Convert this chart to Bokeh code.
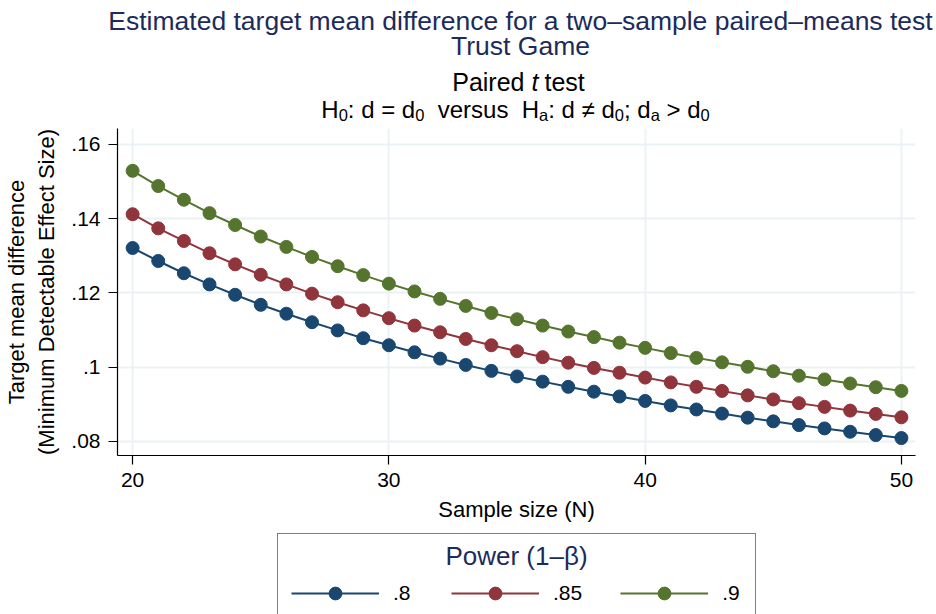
from bokeh.plotting import figure
from bokeh.models import Range1d, FixedTicker, Label, Legend, LegendItem
from bokeh.layouts import column, row
from bokeh.embed import file_html
from bokeh.resources import INLINE

# ---- data ----
sample_size = list(range(20, 51))
power_labels = [".8", ".85", ".9"]
mdes_p80 = [0.1321, 0.1286, 0.1253, 0.1223, 0.1195, 0.1168, 0.1144, 0.1121, 0.1099, 0.1078,
            0.1059, 0.1040, 0.1023, 0.1006, 0.0990, 0.0975, 0.0961, 0.0947, 0.0934, 0.0921,
            0.0909, 0.0897, 0.0886, 0.0875, 0.0864, 0.0854, 0.0844, 0.0835, 0.0826, 0.0817, 0.0809]
mdes_p85 = [0.1412, 0.1374, 0.1340, 0.1307, 0.1277, 0.1249, 0.1223, 0.1198, 0.1175, 0.1153,
            0.1132, 0.1112, 0.1094, 0.1076, 0.1059, 0.1043, 0.1027, 0.1012, 0.0998, 0.0985,
            0.0972, 0.0959, 0.0947, 0.0936, 0.0924, 0.0913, 0.0903, 0.0893, 0.0883, 0.0874, 0.0865]
mdes_p90 = [0.1529, 0.1488, 0.1451, 0.1415, 0.1383, 0.1352, 0.1324, 0.1297, 0.1272, 0.1248,
            0.1225, 0.1204, 0.1184, 0.1165, 0.1146, 0.1129, 0.1112, 0.1096, 0.1081, 0.1066,
            0.1052, 0.1038, 0.1025, 0.1013, 0.1001, 0.0989, 0.0977, 0.0967, 0.0956, 0.0946, 0.0936]
x_ticks = [20, 30, 40, 50]
y_ticks = [0.08, 0.10, 0.12, 0.14, 0.16]
y_tick_labels = [".08", ".1", ".12", ".14", ".16"]

FONT = "Liberation Sans"
NAVY = "#1A476F"
MAROON = "#90353B"
GREEN = "#55752F"
TITLE_COLOR = "#1C2B5A"
GRID = "#EAF2F3"
colors = [NAVY, MAROON, GREEN]
series = [mdes_p80, mdes_p85, mdes_p90]

W = 936
BL, BR, FW = 117, 21, 798   # shared left border, right border, frame width
NB = "\u00a0"

def bare(fig):
    fig.outline_line_color = None
    fig.xgrid.visible = False
    fig.ygrid.visible = False
    return fig

def tlab(fig, x, y, text, size, color="black", style="normal", align="center"):
    fig.add_layout(Label(x=x, y=y, text=text, text_font=FONT, text_font_size=f"{size}px",
                         text_color=color, text_font_style=style, text_align=align,
                         text_baseline="alphabetic"))

# Arial/Liberation Sans advance widths (per 1000 em) for laying out the hypothesis line
ADV = {"H": 722, ":": 278, " ": 278, NB: 278, "d": 556, "=": 584, "v": 500, "e": 556,
       "r": 333, "s": 500, "u": 556, "\u2260": 549, ";": 278, ">": 584, "0": 556, "a": 556}

def text_w(s, size):
    return sum(ADV.get(ch, 556) for ch in s) * size / 1000.0

# ---------- title panel (full width) ----------
TH = 124
t = bare(figure(frame_width=W, frame_height=TH, min_border=0,
                x_range=Range1d(0, W), y_range=Range1d(0, TH),
                x_axis_type=None, y_axis_type=None,
                output_backend="svg", toolbar_location=None))
tlab(t, 520, TH - 20, "Estimated target mean difference for a two\u2013sample paired\u2013means test", 26.5, TITLE_COLOR)
tlab(t, 520, TH - 45, "Trust Game", 26.5, TITLE_COLOR)
tlab(t, 524, TH - 81, "Paired", 25, align="right")
tlab(t, 531, TH - 81, "t", 25, style="italic", align="left")
tlab(t, 544, TH - 81, "test", 25, align="left")

# H0: d = d0  versus  Ha: d != d0; da > d0   (with real subscripts)
S, s = 24, 16.5
pieces = [("H", False), ("0", True), (":" + NB + "d" + NB + "=" + NB + "d", False), ("0", True),
          (NB * 2 + "versus" + NB * 2 + "H", False), ("a", True),
          (":" + NB + "d" + NB + "\u2260" + NB + "d", False), ("0", True),
          (";" + NB + "d", False), ("a", True), (NB + ">" + NB + "d", False), ("0", True)]
total = sum(text_w(tx, s if sub else S) for tx, sub in pieces)
xpos = 515 - total / 2
base = TH - 109
for tx, sub in pieces:
    sz = s if sub else S
    tlab(t, xpos, base - (5 if sub else 0), tx, sz, align="left")
    xpos += text_w(tx, sz)

# ---------- main plot ----------
p = figure(frame_width=FW, frame_height=327,
           min_border_left=BL, min_border_right=BR, min_border_top=4, min_border_bottom=67,
           x_range=Range1d(19.41, 50.55), y_range=Range1d(0.0762, 0.1643),
           output_backend="svg", toolbar_location=None)
p.outline_line_color = None

p.xgrid.ticker = FixedTicker(ticks=x_ticks)
p.ygrid.ticker = FixedTicker(ticks=y_ticks)
for g in (p.xgrid, p.ygrid):
    g.grid_line_color = GRID
    g.grid_line_width = 2

p.xaxis.ticker = FixedTicker(ticks=x_ticks)
p.yaxis.ticker = FixedTicker(ticks=y_ticks)
p.yaxis.major_label_overrides = {tk: lb for tk, lb in zip(y_ticks, y_tick_labels)}
for ax in (p.xaxis, p.yaxis):
    ax.axis_line_color = "black"
    ax.axis_line_width = 1.2
    ax.major_tick_line_color = "black"
    ax.major_tick_line_width = 1.2
    ax.major_tick_out = 9
    ax.major_tick_in = 0
    ax.minor_tick_line_color = None
    ax.major_label_text_font = FONT
    ax.major_label_text_font_size = "21px"
    ax.major_label_text_color = "black"
    ax.axis_label_text_font = FONT
    ax.axis_label_text_font_style = "normal"
    ax.axis_label_text_color = "black"
p.xaxis.axis_label_text_font_size = "22px"
p.yaxis.axis_label_text_font_size = "22px"
p.yaxis.major_label_orientation = "horizontal"
p.yaxis.major_label_standoff = 8
p.xaxis.major_label_standoff = 8
p.xaxis.axis_label = "Sample size (N)"
p.yaxis.axis_label = "Target mean difference\n(Minimum Detectable Effect Size)"
p.xaxis.axis_label_standoff = 7
p.yaxis.axis_label_standoff = 9

for vals, col in zip(series, colors):
    p.line(sample_size, vals, line_color=col, line_width=2)
    p.scatter(sample_size, vals, size=13, marker="circle", fill_color=col, line_color=col)

# ---------- legend panel (frame aligned with the plot) ----------
LH = 92
lg = bare(figure(frame_width=FW, frame_height=LH, min_border_left=BL, min_border_right=BR,
                 min_border_top=0, min_border_bottom=0,
                 x_range=Range1d(BL, BL + FW), y_range=Range1d(0, LH),
                 x_axis_type=None, y_axis_type=None,
                 output_backend="svg", toolbar_location=None))
items = []
for vals, lab, col in zip(series, power_labels, colors):
    lr = lg.line(sample_size, vals, line_color=col, line_width=2, visible=False)
    sr = lg.scatter(sample_size, vals, size=13, marker="circle", fill_color=col,
                    line_color=col, visible=False)
    items.append(LegendItem(label=lab, renderers=[lr, sr]))

legend = Legend(items=items, orientation="horizontal", location=(160, -7),
                title=" ", title_text_font_size="20px", title_standoff=7,
                label_text_font=FONT, label_text_font_size="21px", label_text_color="black",
                glyph_width=88, glyph_height=32, label_height=32, label_standoff=14, label_width=20,
                spacing=38, padding=13, margin=0,
                inactive_fill_alpha=0.0,
                border_line_color="black", border_line_width=1.2,
                background_fill_alpha=0.0)
lg.add_layout(legend, "center")
tlab(lg, 516, LH - (553 - 522), "Power (1\u2013\u03b2)", 26, TITLE_COLOR)

layout = column(row(t), p, lg, spacing=0)
open("out.html", "w").write(file_html(layout, INLINE))
